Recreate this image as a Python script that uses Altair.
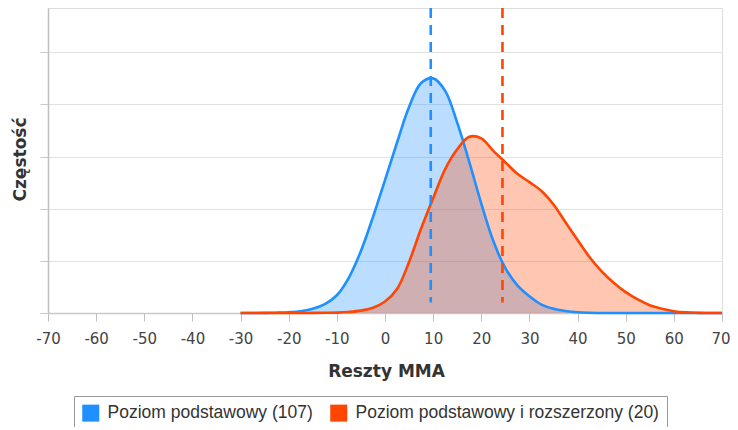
import altair as alt
import pandas as pd

# ---- data ----
x_vals = [-30, -27.5, -25, -22.5, -20, -17.5, -15, -12.5, -10, -7.5, -5, -2.5, 0, 2.5, 5, 7.5,
          10, 12.5, 15, 17.5, 20, 22.5, 25, 27.5, 30, 32.5, 35, 37.5, 40, 42.5, 45, 47.5,
          50, 52.5, 55, 57.5, 60, 62.5, 65, 67.5, 70]
blue_vals = [0, 0, 0.002, 0.006, 0.015, 0.035, 0.08, 0.17, 0.34, 0.68, 1.19, 1.84, 2.55, 3.27, 3.95, 4.41,
             4.50, 4.26, 3.65, 2.90, 2.10, 1.38, 0.86, 0.53, 0.32, 0.16, 0.08, 0.04, 0.015, 0.005, 0.001, 0,
             0, 0, 0, 0, 0, 0, 0, 0, 0]
red_vals = [0, 0, 0, 0, 0, 0.001, 0.002, 0.004, 0.008, 0.02, 0.045, 0.10, 0.22, 0.46, 0.98, 1.62,
            2.20, 2.76, 3.14, 3.38, 3.35, 3.11, 2.89, 2.67, 2.51, 2.34, 2.08, 1.74, 1.40, 1.07, 0.80, 0.58,
            0.40, 0.26, 0.15, 0.08, 0.035, 0.012, 0.003, 0, 0]
series_names = ["Poziom podstawowy (107)", "Poziom podstawowy i rozszerzony (20)"]
series_colors = ["#1E90FF", "#FF4500"]
mean_vals = [9.5, 24.4]
x_ticks = [-70, -60, -50, -40, -30, -20, -10, 0, 10, 20, 30, 40, 50, 60, 70]
y_ticks = [0, 1, 2, 3, 4, 5]
y_top = 5.85

rows = []
for xv, b, r in zip(x_vals, blue_vals, red_vals):
    rows.append({"x": xv, "y": b, "s": series_names[0]})
    rows.append({"x": xv, "y": r, "s": series_names[1]})
df = pd.DataFrame(rows)
means = pd.DataFrame({"m": mean_vals, "s": series_names,
                      "top": [y_top, y_top], "bot": [0.2, 0.2]})

W, H = 674, 305
PAD_L, PAD_R = 40, 8

xscale = alt.Scale(domain=[-70, 70], nice=False, zero=False)
yscale = alt.Scale(domain=[0, y_top], nice=False)
cscale = alt.Scale(domain=series_names, range=series_colors)

xaxis = alt.Axis(values=x_ticks, title="Reszty MMA", grid=False, labelFlush=False,
                 labelAlign={"condition": {"test": "datum.value == 70", "value": "right"},
                             "value": "center"},
                 labelOffset={"condition": {"test": "datum.value == 70", "value": 8},
                              "value": 0},
                 labelExpr="'' + datum.value", labelFont="DejaVu Sans", labelFontSize=15,
                 labelColor="#444", labelPadding=10, tickSize=8, tickColor="#c0c0c0",
                 domainColor="#c8c8c8", domainWidth=1.5,
                 titleFont="DejaVu Sans", titleFontSize=17, titleFontWeight="bold",
                 titleColor="#333", titleBaseline="alphabetic", titleY=63, titleX=W / 2 + 1,
                 titleAlign="center")
yaxis = alt.Axis(values=y_ticks, labels=False, title="Częstość", grid=True,
                 gridColor="#e2e2e2", gridWidth=1.2, tickSize=8, tickColor="#c8c8c8",
                 domainColor="#c0c0c0", domainWidth=1.5,
                 titleFont="DejaVu Sans", titleFontSize=17, titleFontWeight="bold",
                 titleColor="#333", titleBaseline="alphabetic", titleX=-23, titleY=151,
                 titleAlign="center", titleAngle=270)

base = alt.Chart(df)

areas = base.mark_area(interpolate="catmull-rom", fillOpacity=0.3, strokeWidth=0).encode(
    x=alt.X("x:Q", scale=xscale, axis=xaxis),
    y=alt.Y("y:Q", scale=yscale, axis=yaxis, stack=None),
    fill=alt.Fill("s:N", scale=cscale, sort=series_names,
                  legend=alt.Legend(orient="none", legendX=26, legendY=388, direction="horizontal",
                                    title=None, strokeColor="#9a9a9a", padding=8,
                                    symbolType="square", symbolSize=289, symbolStrokeWidth=0,
                                    symbolOpacity=1, labelFont="Liberation Sans",
                                    labelFontSize=17.5, labelColor="#333", labelOffset=8,
                                    columnPadding=17, labelLimit=500)),
)

lines = base.mark_line(interpolate="catmull-rom", strokeWidth=2.6).encode(
    x=alt.X("x:Q", scale=xscale),
    y=alt.Y("y:Q", scale=yscale, stack=None),
    stroke=alt.Stroke("s:N", scale=cscale, legend=None),
)

rules = alt.Chart(means).mark_rule(strokeWidth=2.6, strokeDash=[10, 7]).encode(
    x=alt.X("m:Q", scale=xscale),
    y=alt.Y("top:Q", scale=yscale),
    y2=alt.Y2("bot:Q"),
    stroke=alt.Stroke("s:N", scale=cscale, legend=None),
)

chart = alt.layer(areas, lines, rules).properties(
    width=W, height=H,
    autosize=alt.AutoSizeParams(type="none"),
    padding={"left": PAD_L, "top": 0, "right": PAD_R, "bottom": 114},
).configure_view(stroke="#e0e0e0", strokeWidth=1.2).configure(background="white")

chart.save("out.html", embed_options={"renderer": "svg", "actions": False})
